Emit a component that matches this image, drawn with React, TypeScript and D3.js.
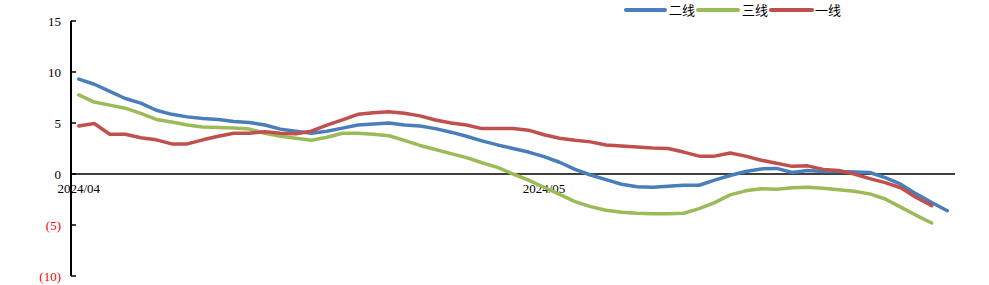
import React from "react";
import * as d3 from "d3";

const categories: string[] = [
  "2024/04/01","2024/04/02","2024/04/03","2024/04/04","2024/04/05","2024/04/06","2024/04/07","2024/04/08","2024/04/09","2024/04/10",
  "2024/04/11","2024/04/12","2024/04/13","2024/04/14","2024/04/15","2024/04/16","2024/04/17","2024/04/18","2024/04/19","2024/04/20",
  "2024/04/21","2024/04/22","2024/04/23","2024/04/24","2024/04/25","2024/04/26","2024/04/27","2024/04/28","2024/04/29","2024/04/30",
  "2024/05/01","2024/05/02","2024/05/03","2024/05/04","2024/05/05","2024/05/06","2024/05/07","2024/05/08","2024/05/09","2024/05/10",
  "2024/05/11","2024/05/12","2024/05/13","2024/05/14","2024/05/15","2024/05/16","2024/05/17","2024/05/18","2024/05/19","2024/05/20",
  "2024/05/21","2024/05/22","2024/05/23","2024/05/24","2024/05/25","2024/05/26","2024/05/27",
];

const tier2: (number | null)[] = [
  9.3, 8.8, 8.1, 7.4, 6.95, 6.25, 5.85, 5.6, 5.45, 5.35,
  5.15, 5.05, 4.8, 4.4, 4.2, 4.0, 4.2, 4.5, 4.8, 4.9,
  5.0, 4.8, 4.7, 4.45, 4.1, 3.7, 3.25, 2.85, 2.5, 2.15,
  1.7, 1.15, 0.45, -0.1, -0.55, -1.0, -1.25, -1.3, -1.2, -1.1,
  -1.1, -0.6, -0.15, 0.25, 0.5, 0.55, 0.15, 0.35, 0.25, 0.25,
  0.2, 0.15, -0.35, -1.0, -1.95, -2.8, -3.6,
];

const tier3: (number | null)[] = [
  7.75, 7.05, 6.75, 6.45, 5.95, 5.35, 5.1, 4.8, 4.6, 4.55,
  4.5, 4.4, 4.0, 3.7, 3.5, 3.3, 3.6, 4.0, 4.0, 3.9,
  3.75, 3.3, 2.8, 2.4, 2.0, 1.6, 1.1, 0.65, 0.0, -0.6,
  -1.3, -2.0, -2.7, -3.2, -3.55, -3.75, -3.85, -3.9, -3.9, -3.85,
  -3.4, -2.8, -2.05, -1.65, -1.45, -1.5, -1.35, -1.3, -1.4, -1.55,
  -1.7, -1.95, -2.45, -3.25, -4.05, -4.8, null,
];

const tier1: (number | null)[] = [
  4.7, 4.95, 3.9, 3.9, 3.55, 3.35, 2.95, 2.95, 3.35, 3.7,
  4.0, 4.0, 4.15, 4.0, 3.95, 4.2, 4.8, 5.3, 5.85, 6.0,
  6.1, 5.95, 5.7, 5.3, 5.0, 4.8, 4.45, 4.45, 4.45, 4.3,
  3.85, 3.5, 3.3, 3.15, 2.85, 2.75, 2.65, 2.55, 2.5, 2.15,
  1.75, 1.75, 2.05, 1.75, 1.35, 1.05, 0.75, 0.8, 0.45, 0.35,
  0.0, -0.45, -0.85, -1.35, -2.3, -3.1, null,
];

const seriesNames = ["二线", "三线", "一线"];
const seriesColors = ["#4A7EBB", "#9BBB59", "#C0504D"];
const yTicks = [15, 10, 5, 0, -5, -10];
const xTickLabels: { index: number; label: string }[] = [
  { index: 0, label: "2024/04" },
  { index: 30, label: "2024/05" },
];

const W = 989;
const H = 285;
const left = 71;
const right = 955;
const top = 21;
const bottom = 276;

export default function App() {
  const x = d3
    .scaleBand<number>()
    .domain(categories.map((_, i) => i))
    .range([left, right]);
  const cx = (i: number) => (x(i) as number) + x.bandwidth() / 2;
  const y = d3.scaleLinear().domain([-10, 15]).range([bottom, top]);

  const line = d3
    .line<number | null>()
    .defined((d) => d !== null)
    .x((_, i) => cx(i))
    .y((d) => y(d as number));

  const allSeries = [tier2, tier3, tier1];
  const serif = "'Liberation Serif', 'Times New Roman', serif";
  const cjk = "'Noto Sans CJK SC', 'Noto Sans', sans-serif";

  const legendItems = [
    { x0: 626, x1: 665, tx: 669 },
    { x0: 698, x1: 738, tx: 742 },
    { x0: 771, x1: 812, tx: 815 },
  ];

  return (
    <svg
      width={W}
      height={H}
      style={{ position: "absolute", left: 0, top: 0, background: "#fff" }}
    >
      <rect x={0} y={0} width={W} height={H} fill="#fff" />
      {/* y axis */}
      <line x1={left} x2={left} y1={top} y2={bottom} stroke="#000" strokeWidth={2} />
      {yTicks.map((t) => (
        <g key={t}>
          <line x1={left} x2={left + 5} y1={y(t)} y2={y(t)} stroke="#000" strokeWidth={1.5} />
          <text
            x={61}
            y={y(t)}
            dy="0.35em"
            textAnchor="end"
            fontFamily={serif}
            fontSize={13}
            fill={t < 0 ? "#FF0000" : "#000"}
          >
            {t < 0 ? `(${Math.abs(t)})` : t}
          </text>
        </g>
      ))}
      {/* zero line */}
      <line x1={left} x2={right} y1={y(0)} y2={y(0)} stroke="#000" strokeWidth={1.5} />
      {xTickLabels.map((t) => (
        <text
          key={t.label}
          x={cx(t.index)}
          y={y(0) + 19}
          textAnchor="middle"
          fontFamily={serif}
          fontSize={13}
          fill="#000"
        >
          {t.label}
        </text>
      ))}
      {/* series */}
      {allSeries.map((s, k) => (
        <path
          key={k}
          d={line(s) || ""}
          fill="none"
          stroke={seriesColors[k]}
          strokeWidth={3.5}
          strokeLinejoin="round"
          strokeLinecap="round"
        />
      ))}
      {/* legend */}
      {legendItems.map((li, k) => (
        <g key={k}>
          <line
            x1={li.x0}
            x2={li.x1}
            y1={10}
            y2={10}
            stroke={seriesColors[k]}
            strokeWidth={4}
            strokeLinecap="round"
          />
          <text x={li.tx} y={10} dy="0.36em" fontFamily={cjk} fontSize={13} fill="#000">
            {seriesNames[k]}
          </text>
        </g>
      ))}
    </svg>
  );
}
